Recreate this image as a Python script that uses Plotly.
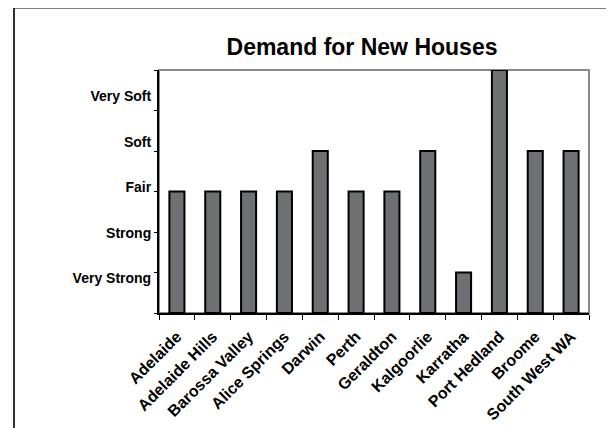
import plotly.graph_objects as go

categories = ["Adelaide", "Adelaide Hills", "Barossa Valley", "Alice Springs", "Darwin",
              "Perth", "Geraldton", "Kalgoorlie", "Karratha", "Port Hedland", "Broome",
              "South West WA"]
values = [3, 3, 3, 3, 4, 3, 3, 4, 1, 6, 4, 4]

y_ticks = [0, 1, 2, 3, 4, 5, 6]
label_text = ["Very Strong", "Strong", "Fair", "Soft", "Very Soft"]
label_pos = [0.85, 1.98, 3.1, 4.22, 5.35]

FONT = "Liberation Sans, Arial, sans-serif"
W, H = 606, 420          # page body has an 8px margin
L, R, T, B = 151, 25, 62, 115
PW, PH = W - L - R, H - T - B

fig = go.Figure()
fig.add_trace(go.Bar(
    x=categories, y=values,
    marker=dict(color="#6e7073", line=dict(color="#000000", width=2)),
    width=0.42,
    hoverinfo="skip",
))
fig.add_trace(go.Scatter(x=categories[:1], y=[0], yaxis="y2", mode="markers",
                         marker=dict(opacity=0), hoverinfo="skip", showlegend=False))

fig.update_layout(
    width=W, height=H,
    margin=dict(l=L, r=R, t=T, b=B, autoexpand=False),
    paper_bgcolor="white", plot_bgcolor="white",
    showlegend=False,
    title=dict(text="Demand for New Houses", x=354 / W, xanchor="center",
               y=1 - 39 / H, yanchor="middle",
               font=dict(family=FONT, size=23, color="#000000", weight="bold")),
    xaxis=dict(
        type="category", tickson="boundaries", ticks="outside", ticklen=5, tickcolor="#000000",
        tickwidth=1, showline=True, linecolor="#000000", linewidth=2, showgrid=False,
        tickangle=-45, automargin=False, ticklabelstandoff=6,
        tickfont=dict(family=FONT, size=16, color="#000000", weight="bold"),
        range=[-0.5, 11.5],
    ),
    yaxis=dict(
        range=[0, 6], tickvals=y_ticks, ticks="outside", ticklen=3, tickcolor="#000000",
        showticklabels=False, showline=True, linecolor="#000000", linewidth=2,
        showgrid=False, zeroline=False, automargin=False,
    ),
    yaxis2=dict(
        overlaying="y", side="left", range=[0, 6], tickvals=label_pos, ticktext=label_text,
        ticks="outside", ticklen=4, tickcolor="rgba(0,0,0,0)", showline=False,
        showgrid=False, zeroline=False, automargin=False,
        tickfont=dict(family=FONT, size=14, color="#000000", weight="bold"),
    ),
    shapes=[
        dict(type="rect", xref="paper", yref="paper", x0=0, x1=1, y0=0, y1=1,
             line=dict(color="#8a8a8a", width=2), layer="below"),
        dict(type="line", xref="paper", yref="paper", x0=(6 - L) / PW, x1=1 + R / PW,
             y0=1 + (T + 0.5) / PH, y1=1 + (T + 0.5) / PH, line=dict(color="#808080", width=3)),
        dict(type="line", xref="paper", yref="paper", x0=(6 - L) / PW, x1=(6 - L) / PW,
             y0=1 + (T + 0.5) / PH, y1=-B / PH, line=dict(color="#303030", width=2)),
    ],
)

fig.write_html("out.html")
